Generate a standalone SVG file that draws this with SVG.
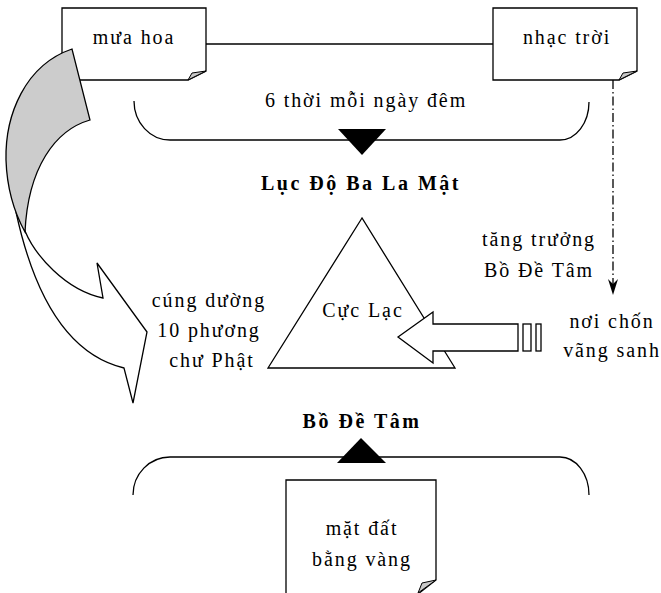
<svg xmlns="http://www.w3.org/2000/svg" width="661" height="593" viewBox="0 0 661 593">
<style>
.t{font-family:"Liberation Serif","Times New Roman",serif;font-size:20px;letter-spacing:1.9px;fill:#000;text-anchor:middle}
.b{font-family:"Liberation Serif","Times New Roman",serif;font-size:20px;font-weight:bold;letter-spacing:2.5px;fill:#000;text-anchor:middle}
.s{fill:#fff;stroke:#000;stroke-width:1.3;stroke-linejoin:miter}
.ln{fill:none;stroke:#000;stroke-width:1.3}
.fold{fill:#c8c8c8;stroke:#000;stroke-width:1}
</style>
<rect width="661" height="593" fill="#fff"/>
<g id="connectors">
  <line class="ln" x1="206" y1="44" x2="493" y2="44"/>
  <path class="ln" d="M134,101 A36,39 0 0 0 170,140 H560 A29,38 0 0 0 589,102"/>
  <path class="ln" d="M133,495 A37,38 0 0 1 170,457 H560 A29,38 0 0 1 589,495"/>
  <line class="ln" x1="613" y1="80" x2="613" y2="284" stroke-dasharray="9,3,1.5,3"/>
  <path d="M613,295 L608,279 L613,284 L618,279 Z" fill="#000"/>
</g>
<g id="node-bottom-box">
  <path class="s" d="M286,594 V480 H436 V580 L418,594"/>
  <path class="fold" d="M418,593 L422,583 L436,580 Z"/>
  <text class="t" x="362" y="535">mặt đất</text>
  <text class="t" x="362" y="566">bằng vàng</text>
</g>
<g id="node-mua-hoa">
  <path class="s" d="M62,8 H206 V71 L188,80 H62 Z"/>
  <path class="fold" d="M188,80 L192,73 L206,71 Z"/>
  <text class="t" x="134" y="44">mưa hoa</text>
</g>
<g id="node-nhac-troi">
  <path class="s" d="M493,8 H637 V71 L619,80 H493 Z"/>
  <path class="fold" d="M619,80 L623,73 L637,71 Z"/>
  <text class="t" x="567" y="44">nhạc trời</text>
</g>
<g id="node-curved-arrow">
  <path class="s" d="M25,231 C35,255 65,290 103,298 L97,263 L147,332 L133,403 L124,368 C70,355 35,300 16,212 Z"/>
  <path class="fold" style="fill:#cccccc;stroke-width:1.3" d="M72,49 C25,65 5,115 6,160 C7,190 14,212 25,232 C28,168 55,130 90,120 Z"/>
</g>
<g id="node-top-label">
  <text class="t" x="366" y="107">6 thời mỗi ngày đêm</text>
  <path d="M338,129 H386 L362,155 Z" fill="#000"/>
  <text class="b" x="361" y="190">Lục Độ Ba La Mật</text>
</g>
<g id="node-cuc-lac">
  <path class="s" d="M362,218 L268,368 L455,368 Z"/>
  <text class="t" x="363" y="317">Cực Lạc</text>
</g>
<g id="node-striped-arrow">
  <path class="s" d="M398,337 L433,312 V324 H518 V351 H433 V363 Z"/>
  <rect class="s" x="523" y="324" width="8" height="27"/>
  <rect class="s" x="536" y="324" width="5" height="27"/>
</g>
<g id="node-cung-duong">
  <text class="t" x="209" y="307">cúng dường</text>
  <text class="t" x="209" y="337">10 phương</text>
  <text class="t" x="212" y="367">chư Phật</text>
</g>
<g id="node-tang-truong">
  <text class="t" x="539" y="246">tăng trưởng</text>
  <text class="t" x="539" y="277">Bồ Đề Tâm</text>
</g>
<g id="node-noi-chon">
  <text class="t" x="612" y="328">nơi chốn</text>
  <text class="t" x="612" y="357">vãng sanh</text>
</g>
<g id="node-bo-de-tam">
  <text class="b" x="362" y="428">Bồ Đề Tâm</text>
  <path d="M337,463 H386 L361,438 Z" fill="#000"/>
</g>
</svg>
